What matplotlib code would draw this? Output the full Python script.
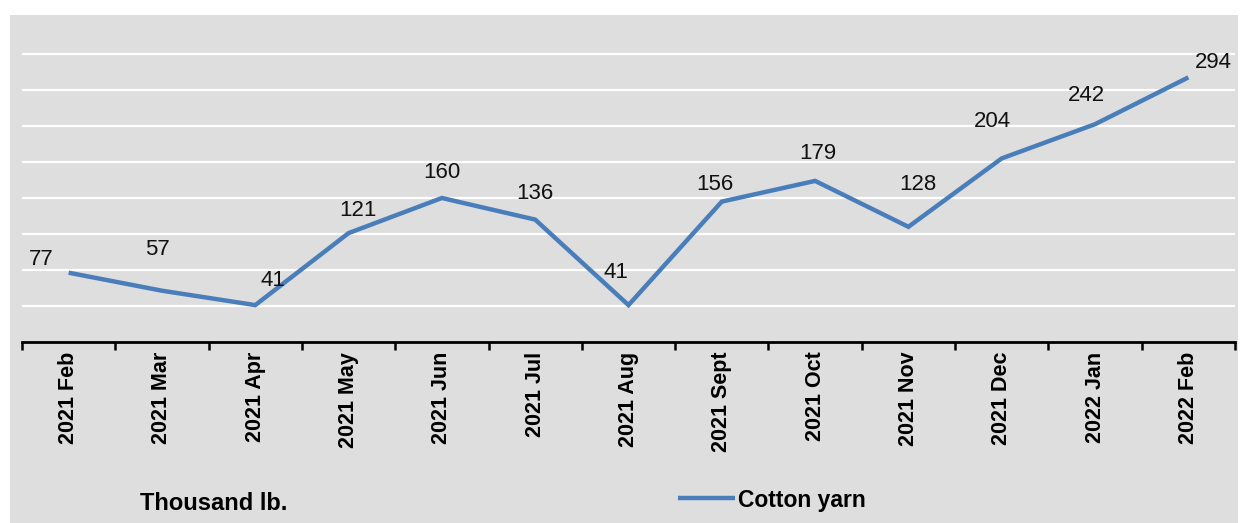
import matplotlib
matplotlib.use("Agg")
import matplotlib.pyplot as plt
from matplotlib.patches import Rectangle

# monthly values, thousand lb.
months = ['2021 Feb', '2021 Mar', '2021 Apr', '2021 May', '2021 Jun', '2021 Jul',
          '2021 Aug', '2021 Sept', '2021 Oct', '2021 Nov', '2021 Dec', '2022 Jan', '2022 Feb']
cotton_yarn = [77, 57, 41, 121, 160, 136, 41, 156, 179, 128, 204, 242, 294]

# label offsets (points) for each data label
label_offsets = [(-20, 2), (-3, 22), (13, 10), (7, 9), (0, 11), (0, 11),
                 (-9, 16), (-5, 5), (2, 12), (7, 23), (-7, 19), (-6, 13), (18, 3)]

plt.rcParams['font.family'] = ['Liberation Sans', 'DejaVu Sans']

W, H = 1247, 523
fig = plt.figure(figsize=(W / 100, H / 100), dpi=100)
fig.patch.set_facecolor('white')

# gray panel behind the chart
fig.patches.append(Rectangle((10 / W, 0), 1228 / W, 1 - 15 / H, transform=fig.transFigure,
                             facecolor='#dedede', edgecolor='none', zorder=-10))

ax = fig.add_axes([22 / W, (H - 342) / H, 1213 / W, 324 / H])
ax.set_facecolor('none')
ax.set_zorder(1)

x = list(range(len(months)))
ax.plot(x, cotton_yarn, color='#4a7ebb', linewidth=3.2, solid_capstyle='butt',
        solid_joinstyle='miter', zorder=3)

for xi, v, off in zip(x, cotton_yarn, label_offsets):
    ax.annotate(str(v), (xi, v), textcoords='offset points', xytext=off,
                ha='center', va='bottom', fontsize=16, color='#111111')

ax.set_xlim(-0.5, len(months) - 0.5)
ax.set_ylim(0, 360)
ax.set_yticks(range(40, 360, 40))
ax.yaxis.grid(True, color='white', linewidth=1.6)
ax.set_axisbelow(True)
ax.tick_params(axis='y', left=False, labelleft=False)

ax.set_xticks([i - 0.5 for i in range(len(months) + 1)])
ax.set_xticklabels([])
ax.set_xticks(x, minor=True)
ax.set_xticklabels(months, minor=True, rotation=90, fontsize=15.5, fontweight='bold')
ax.tick_params(axis='x', which='major', direction='out', length=6, width=1.8, color='black')
ax.tick_params(axis='x', which='minor', length=0, pad=7)

for s in ['top', 'right', 'left']:
    ax.spines[s].set_visible(False)
ax.spines['bottom'].set_linewidth(2)
ax.spines['bottom'].set_color('black')

fig.text(140 / W, 1 - 503 / H, 'Thousand lb.', fontsize=17, fontweight='bold',
         ha='left', va='center')

leg = fig.legend([ax.lines[0]], ['Cotton yarn'], loc='center left',
                 bbox_to_anchor=(678 / W, 1 - 500 / H), frameon=False,
                 prop={'weight': 'bold', 'size': 16.5}, handlelength=2.5,
                 handletextpad=0.1, borderpad=0, borderaxespad=0)

fig.savefig('out.png', dpi=100)
